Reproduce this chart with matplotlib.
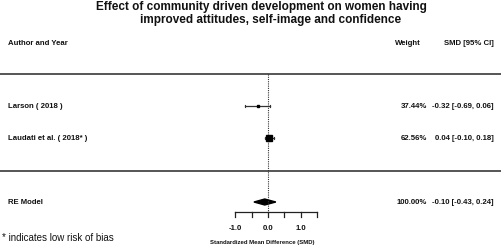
import matplotlib
matplotlib.use("Agg")
import matplotlib.pyplot as plt
from matplotlib.patches import Polygon

plt.rcParams['font.family'] = ['Liberation Sans', 'DejaVu Sans']

# study data
studies = ["Larson ( 2018 )", "Laudati et al. ( 2018* )"]
smd = [-0.32, 0.04]
ci_low = [-0.69, -0.10]
ci_high = [0.06, 0.18]
weights = ["37.44%", "62.56%"]
ci_text = ["-0.32 [-0.69, 0.06]", "0.04 [-0.10, 0.18]"]
marker_size = [2.0, 5.0]

re_est, re_low, re_high = -0.10, -0.43, 0.24
re_weight = "100.00%"
re_text = "-0.10 [-0.43, 0.24]"

tick_vals = [-1.0, -0.5, 0.0, 0.5, 1.0, 1.5]
tick_labels = ["-1.0", "", "0.0", "", "1.0", ""]

W, H = 502, 249
fig = plt.figure(figsize=(W / 100, H / 100), dpi=100)
ax = fig.add_axes([0, 0, 1, 1])
# x in SMD units (0 at px 268, 32.7 px per unit), y in pixel rows
px_per_unit = 32.7
x0 = 268
ax.set_xlim(-x0 / px_per_unit, (W - x0) / px_per_unit)
ax.set_ylim(H, 0)
ax.axis("off")

def fx(px):
    return (px - x0) / px_per_unit

fs = 5.6
ink = "#111111"

# title
fig.text(261 / W, 1 - 7 / H, "Effect of community driven development on women having",
         ha="center", va="center", fontsize=8.5, fontweight="bold", color=ink)
fig.text(271 / W, 1 - 19.5 / H, "improved attitudes, self-image and confidence",
         ha="center", va="center", fontsize=8.5, fontweight="bold", color=ink)

# headers
ax.text(fx(8), 43, "Author and Year", ha="left", va="center", fontsize=fs, fontweight="bold", color=ink)
ax.text(fx(421), 43, "Weight", ha="right", va="center", fontsize=fs, fontweight="bold", color=ink)
ax.text(fx(494), 43, "SMD [95% CI]", ha="right", va="center", fontsize=fs, fontweight="bold", color=ink)

# horizontal separators
ax.axhline(74, color="#555555", lw=1.4)
ax.axhline(171, color="#555555", lw=1.4)

# reference line at 0
ax.plot([0, 0], [74, 212], color="#333333", lw=0.8, ls=(0, (1, 1)))

rows = [106, 138]
for i, name in enumerate(studies):
    y = rows[i]
    ax.plot([ci_low[i], ci_high[i]], [y, y], color="#333333", lw=0.9)
    ax.plot([ci_low[i], ci_low[i]], [y - 1, y + 1], color="#333333", lw=0.8)
    ax.plot([ci_high[i], ci_high[i]], [y - 1, y + 1], color="#333333", lw=0.8)
    ax.plot(smd[i], y, marker="s", ms=marker_size[i], color="black", mec="black")
    ax.text(fx(8), y, name, ha="left", va="center", fontsize=fs, fontweight="bold", color=ink)
    ax.text(fx(427), y, weights[i], ha="right", va="center", fontsize=fs, fontweight="bold", color=ink)
    ax.text(fx(494), y, ci_text[i], ha="right", va="center", fontsize=fs, fontweight="bold", color=ink)

# RE model diamond
yre = 202
dia = Polygon([[re_low, yre], [re_est, yre - 3], [re_high, yre], [re_est, yre + 3]],
              closed=True, color="black")
ax.add_patch(dia)
ax.text(fx(8), yre, "RE Model", ha="left", va="center", fontsize=fs, fontweight="bold", color=ink)
ax.text(fx(427), yre, re_weight, ha="right", va="center", fontsize=fs, fontweight="bold", color=ink)
ax.text(fx(494), yre, re_text, ha="right", va="center", fontsize=fs, fontweight="bold", color=ink)

# x axis
ya = 212
ax.plot([tick_vals[0], tick_vals[-1]], [ya, ya], color="#222222", lw=0.9)
for t, lab in zip(tick_vals, tick_labels):
    ax.plot([t, t], [ya, ya + 5], color="#222222", lw=0.9)
    if lab:
        ax.text(t, 228, lab, ha="center", va="center", fontsize=fs, fontweight="bold", color=ink)
ax.text(fx(262), 242, "Standardized Mean Difference (SMD)", ha="center", va="center",
        fontsize=4.3, fontweight="bold", color=ink)

fig.text(2 / W, 1 - 238 / H, "* indicates low risk of bias", ha="left", va="center",
         fontsize=7, color=ink)

fig.savefig("out.png", dpi=100)
